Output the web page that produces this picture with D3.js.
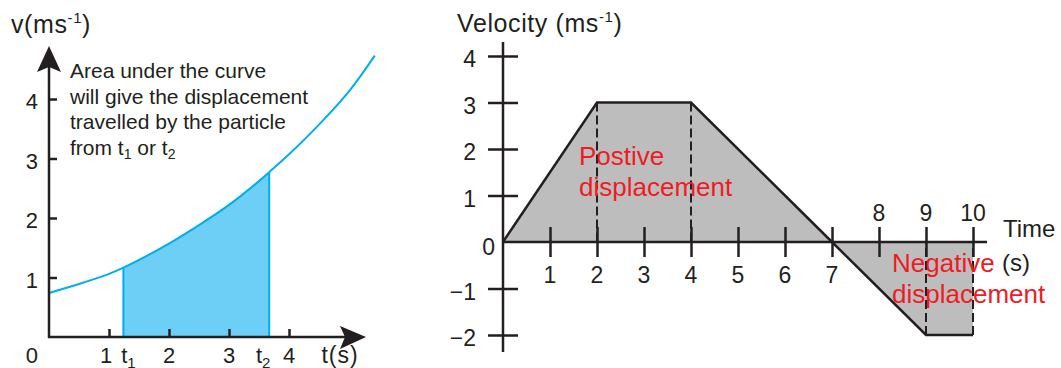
<!DOCTYPE html>
<html>
<head>
<meta charset="utf-8">
<script src="https://cdn.jsdelivr.net/npm/d3@7"></script>
<style>
  body { margin: 0; background: #fff; }
  svg text { font-family: "Liberation Sans", Arial, Helvetica, sans-serif; fill: #231f20; }
</style>
</head>
<body>
<svg id="chart" width="1061" height="368"></svg>
<script>
// left chart: v-t curve, area between t1 and t2
const curveT = [0, 0.5, 1, 1.24, 1.5, 2, 2.5, 3, 3.5, 3.67, 4, 4.5, 5, 5.43];
const curveV = [0.74, 0.89, 1.06, 1.165, 1.295, 1.57, 1.88, 2.22, 2.62, 2.77, 3.07, 3.57, 4.13, 4.73];
const t1 = 1.24, t2 = 3.67;
const leftYTicks = [1, 2, 3, 4];
const leftXTicks = [1, 2, 3, 4];
const noteLines = ["Area under the curve", "will give the displacement", "travelled by the particle"];

// right chart: trapezoid velocity-time graph
const timeS = [0, 2, 4, 7, 9, 10];
const velocity = [0, 3, 3, 0, -2, -2];
const dashedAt = [2, 4, 9, 10];
const rightYTicks = [-2, -1, 0, 1, 2, 3, 4];
const rightXTicks = [1, 2, 3, 4, 5, 6, 7, 8, 9, 10];

const ink = "#231f20";
const cyan = "#00aeef";
const svg = d3.select("#chart");

// ---------- left ----------
let xL = d3.scaleLinear().domain([0, 5]).range([49, 349]);
let yL = d3.scaleLinear().domain([0, 4]).range([337, 99]);

let pts = curveT.map((t, i) => ({t: t, v: curveV[i]}));
let inside = pts.filter(d => d.t >= t1 && d.t <= t2);
let smooth = d3.curveCatmullRom.alpha(0.5);

svg.append("path")
    .datum(inside)
    .attr("fill", "#6dcff6")
    .attr("d", d3.area().x(d => xL(d.t)).y0(yL(0)).y1(d => yL(d.v)).curve(smooth));

[t1, t2].forEach(function(t) {
    let p = inside.find(d => d.t === t);
    svg.append("line")
        .attr("x1", xL(t)).attr("x2", xL(t))
        .attr("y1", yL(0)).attr("y2", yL(p.v))
        .attr("stroke", cyan).attr("stroke-width", 2);
});

svg.append("path")
    .datum(pts)
    .attr("fill", "none")
    .attr("stroke", cyan)
    .attr("stroke-width", 2)
    .attr("d", d3.line().x(d => xL(d.t)).y(d => yL(d.v)).curve(smooth));

// axes
let gy = svg.append("g")
    .attr("transform", "translate(" + xL(0) + ",0)")
    .call(d3.axisRight(yL).tickValues(leftYTicks).tickSize(8).tickFormat(""));
gy.select(".domain").remove();
gy.selectAll("line").attr("stroke", ink).attr("stroke-width", 2.5);

let gx = svg.append("g")
    .attr("transform", "translate(0," + yL(0) + ")")
    .call(d3.axisTop(xL).tickValues(leftXTicks).tickSize(8).tickFormat(""));
gx.select(".domain").remove();
gx.selectAll("line").attr("stroke", ink).attr("stroke-width", 2.5);

svg.append("line")
    .attr("x1", xL(0)).attr("x2", xL(0))
    .attr("y1", yL(0) + 1).attr("y2", 60)
    .attr("stroke", ink).attr("stroke-width", 2.5);
svg.append("line")
    .attr("x1", xL(0) - 1).attr("x2", 352)
    .attr("y1", yL(0)).attr("y2", yL(0))
    .attr("stroke", ink).attr("stroke-width", 2.5);

// arrow heads
svg.append("path")
    .attr("d", "M49,46 L61,72 L49,67 L37,72 Z")
    .attr("fill", ink);
svg.append("path")
    .attr("d", "M366,337 L340,326 L345,337 L340,349 Z")
    .attr("fill", ink);

// labels
leftYTicks.forEach(function(v) {
    svg.append("text").attr("x", 38).attr("y", yL(v) + 10)
        .attr("text-anchor", "end").attr("font-size", 22).text(v);
});
svg.append("text").attr("x", 38).attr("y", 363).attr("text-anchor", "end").attr("font-size", 22).text("0");
leftXTicks.forEach(function(t) {
    svg.append("text").attr("x", xL(t) - (t === 1 ? 3 : 0)).attr("y", 363)
        .attr("text-anchor", "middle").attr("font-size", 22).text(t);
});

function tSub(x, n) {
    let tx = svg.append("text").attr("x", x).attr("y", 363).attr("font-size", 22).attr("text-anchor", "middle");
    tx.append("tspan").text("t");
    tx.append("tspan").attr("font-size", 15).attr("dy", 5).text(n);
}
tSub(xL(t1) + 5, "1");
tSub(xL(t2) - 6, "2");
svg.append("text").attr("x", 340).attr("y", 363).attr("text-anchor", "middle")
    .attr("font-size", 23).attr("letter-spacing", 1).text("t(s)");

let vt = svg.append("text").attr("x", 11).attr("y", 33).attr("font-size", 25).attr("letter-spacing", 0.6);
vt.append("tspan").text("v(ms");
vt.append("tspan").attr("font-size", 15).attr("dy", -10).text("-1");
vt.append("tspan").attr("dy", 10).text(")");

noteLines.forEach(function(s, i) {
    svg.append("text").attr("x", 70).attr("y", 78 + i * 25.6).attr("font-size", 21).text(s);
});
let nt = svg.append("text").attr("x", 70).attr("y", 78 + 3 * 25.6).attr("font-size", 21);
nt.append("tspan").text("from t");
nt.append("tspan").attr("font-size", 14).attr("dy", 4).text("1");
nt.append("tspan").attr("dy", -4).text(" or t");
nt.append("tspan").attr("font-size", 14).attr("dy", 4).text("2");

// ---------- right ----------
let xR = d3.scaleLinear().domain([0, 10]).range([503, 973]);
let yR = d3.scaleLinear().domain([-2, 4]).range([335, 56]);
let rp = timeS.map((t, i) => ({t: t, v: velocity[i]}));

svg.append("path")
    .datum(rp)
    .attr("fill", "#bdbdbd")
    .attr("d", d3.area().x(d => xR(d.t)).y0(yR(0)).y1(d => yR(d.v)));

dashedAt.forEach(function(t) {
    let v = velocity[timeS.indexOf(t)];
    svg.append("line")
        .attr("x1", xR(t)).attr("x2", xR(t))
        .attr("y1", yR(v)).attr("y2", yR(0))
        .attr("stroke", ink).attr("stroke-width", 2)
        .attr("stroke-dasharray", "9,4");
});

let gxr = svg.append("g")
    .attr("transform", "translate(0," + yR(0) + ")")
    .call(d3.axisBottom(xR).tickValues(rightXTicks).tickSize(30).tickFormat(""));
gxr.select(".domain").remove();
gxr.selectAll("line").attr("y1", -15).attr("y2", 15).attr("stroke", ink).attr("stroke-width", 2.5);

let gyr = svg.append("g")
    .attr("transform", "translate(" + xR(0) + ",0)")
    .call(d3.axisLeft(yR).tickValues(rightYTicks.filter(v => v !== 0)).tickSize(30).tickFormat(""));
gyr.select(".domain").remove();
gyr.selectAll("line").attr("x1", -15).attr("x2", 15).attr("stroke", ink).attr("stroke-width", 2.5);

svg.append("line")
    .attr("x1", xR(0)).attr("x2", xR(0)).attr("y1", 42).attr("y2", 352)
    .attr("stroke", ink).attr("stroke-width", 2.5);
svg.append("line")
    .attr("x1", xR(0)).attr("x2", 987).attr("y1", yR(0)).attr("y2", yR(0))
    .attr("stroke", ink).attr("stroke-width", 2.5);

svg.append("path")
    .datum(rp)
    .attr("fill", "none")
    .attr("stroke", ink)
    .attr("stroke-width", 2.5)
    .attr("stroke-linejoin", "miter")
    .attr("d", d3.line().x(d => xR(d.t)).y(d => yR(d.v)));

rightYTicks.forEach(function(v) {
    let zero = v === 0;
    svg.append("text")
        .attr("x", zero ? 495 : 476)
        .attr("y", yR(v) + (zero ? 13 : 11))
        .attr("text-anchor", "end").attr("font-size", 23)
        .text(v < 0 ? "\u2212" + (-v) : v);
});
rightXTicks.forEach(function(t) {
    svg.append("text").attr("x", xR(t)).attr("y", t <= 7 ? 283 : 221)
        .attr("text-anchor", "middle").attr("font-size", 23).text(t);
});
svg.append("text").attr("x", 1003).attr("y", 237).attr("font-size", 24).text("Time");
svg.append("text").attr("x", 1002).attr("y", 271).attr("font-size", 24).text("(s)");

let rt = svg.append("text").attr("x", 457).attr("y", 32).attr("font-size", 25).attr("letter-spacing", 0.6);
rt.append("tspan").text("Velocity (ms");
rt.append("tspan").attr("font-size", 15).attr("dy", -10).text("-1");
rt.append("tspan").attr("dy", 10).text(")");

// red notes
function redNote(x, y, lines) {
    lines.forEach(function(s, i) {
        svg.append("text").attr("x", x).attr("y", y + i * 31)
            .attr("font-size", 26).style("fill", "#ed1c24").text(s);
    });
}
redNote(579, 165, ["Postive", "displacement"]);
redNote(892, 272, ["Negative", "displacement"]);
</script>
</body>
</html>
